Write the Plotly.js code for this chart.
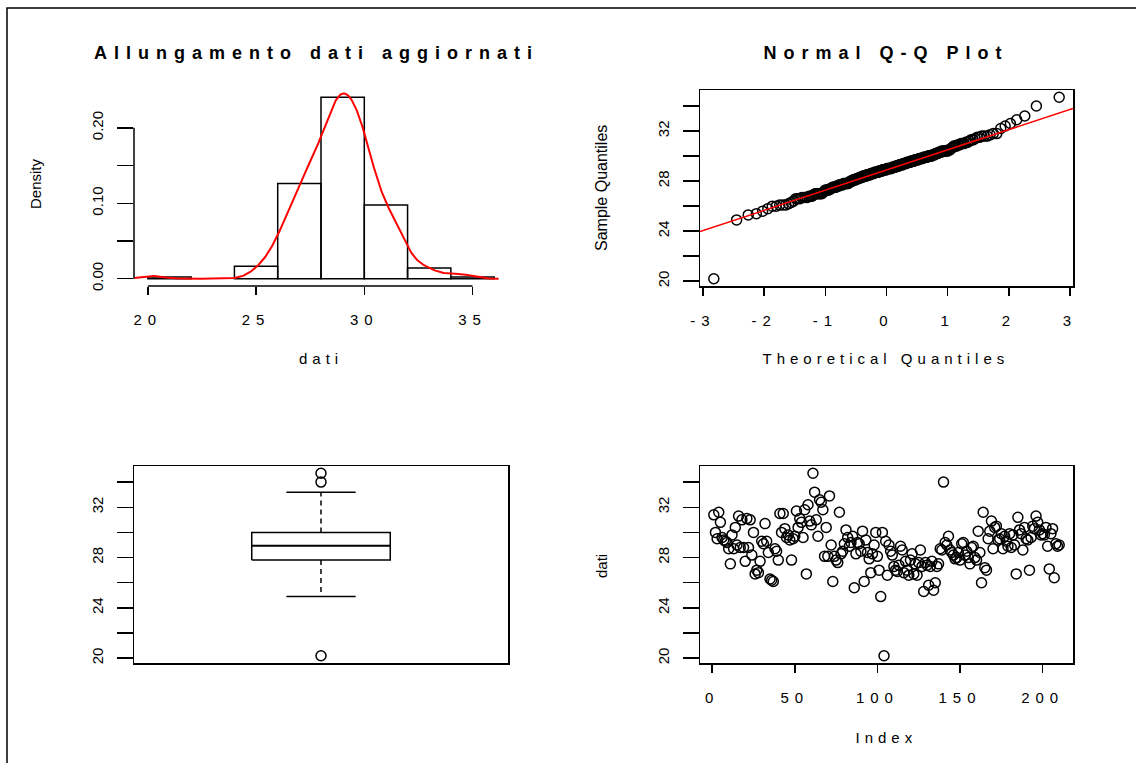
<!DOCTYPE html>
<html><head><meta charset="utf-8">
<script src="https://cdn.plot.ly/plotly-3.0.1.min.js"></script>
<style>
html,body{margin:0;padding:0;background:#fff;}
#chart{width:1136px;height:763px;}
.xtick text, .x2tick text, .x4tick text {letter-spacing:6px;}
.annotation[data-index="0"] text, .annotation[data-index="1"] text {letter-spacing:7px;}
.annotation[data-index="2"] text, .annotation[data-index="3"] text, .annotation[data-index="4"] text {letter-spacing:5px;}
</style>
</head><body><div id="chart"></div><script>
// ---- data (in index order) ----
const dati = [
31.4,30.0,29.5,31.6,30.8,29.6,29.4,29.3,29.2,28.7,
27.5,29.8,28.7,30.4,29.0,31.3,28.8,31.0,28.8,27.7,
31.1,28.8,31.0,28.2,30.0,26.7,27.0,26.8,27.7,29.3,
29.1,30.7,29.3,28.4,26.3,26.2,26.1,28.7,28.5,27.8,
31.5,30.0,31.5,30.3,29.6,29.8,29.4,27.8,29.5,29.7,
31.7,30.4,31.1,30.8,29.6,31.8,26.7,32.2,30.9,30.6,
34.7,33.2,31.0,29.7,32.6,32.4,31.8,28.1,30.4,28.1,
32.9,29.0,26.1,28.1,27.8,27.6,31.6,28.3,28.5,29.1,
30.2,29.6,28.9,29.2,29.7,25.6,28.3,29.2,29.1,28.5,
30.1,26.1,29.4,28.4,27.9,26.8,28.3,29.0,30.0,28.1,
27.0,24.9,30.0,20.2,29.3,26.6,29.0,28.5,28.2,27.3,
27.0,26.9,27.4,28.9,28.6,26.8,27.7,27.0,26.6,27.8,
28.3,26.7,27.5,26.6,27.6,28.6,27.3,25.3,27.6,27.4,
25.8,27.3,27.7,25.4,26.0,27.3,27.5,28.7,28.6,34.0,
29.2,29.0,29.7,28.6,28.4,28.2,27.9,28.0,28.4,27.8,
29.1,29.2,28.2,28.5,28.0,27.5,28.8,28.9,28.0,27.8,
30.1,28.4,26.0,31.6,27.2,27.0,29.5,30.1,30.9,28.7,
30.4,30.5,29.4,29.5,29.9,28.7,29.7,29.3,28.9,29.9,
28.8,29.8,29.0,26.7,31.2,30.2,29.9,28.6,30.4,29.5,
29.4,27.0,29.6,30.5,30.3,31.3,30.8,30.2,29.8,29.9,
29.8,30.4,28.9,27.1,29.9,30.3,26.4,29.1,28.9,29.0
];
const histBreaks = [20,22,24,26,28,30,32,34,36];
const histXTicks = [20,25,30,35];
const histYTicks = [0,0.05,0.10,0.15,0.20];
const histYLabels = ['0.00','','0.10','','0.20'];
const qqXTicks = [-3,-2,-1,0,1,2,3];
const qqXLabels = ['-3','-2','-1','0','1','2','3'];
const valueTicks = [20,22,24,26,28,30,32,34];
const valueLabels = ['20','','24','','28','','32',''];
const indexTicks = [0,50,100,150,200];

// ---- helpers ----
const W=1136,H=763;
const px = v => v/W, py = v => 1 - v/H;
const ext = (a,b) => [a-0.04*(b-a), b+0.04*(b-a)];
const n = dati.length;
const s = dati.slice().sort((a,b)=>a-b);
const idx = dati.map((_,i)=>i+1);
function q7(arr,p){const h=(arr.length-1)*p,lo=Math.floor(h);const hi=Math.min(lo+1,arr.length-1);return arr[lo]+(h-lo)*(arr[hi]-arr[lo]);}
function qnorm(p){
  const a=[-3.969683028665376e+01,2.209460984245205e+02,-2.759285104469687e+02,1.383577518672690e+02,-3.066479806614716e+01,2.506628277459239e+00];
  const b=[-5.447609879822406e+01,1.615858368580409e+02,-1.556989798598866e+02,6.680131188771972e+01,-1.328068155288572e+01];
  const c=[-7.784894002430293e-03,-3.223964580411365e-01,-2.400758277161838e+00,-2.549732539343734e+00,4.374664141464968e+00,2.938163982698783e+00];
  const d=[7.784695709041462e-03,3.224671290700398e-01,2.445134137142996e+00,3.754408661907416e+00];
  const pl=0.02425; let q,r;
  if(p<pl){q=Math.sqrt(-2*Math.log(p));return (((((c[0]*q+c[1])*q+c[2])*q+c[3])*q+c[4])*q+c[5])/((((d[0]*q+d[1])*q+d[2])*q+d[3])*q+1);}
  if(p>1-pl){q=Math.sqrt(-2*Math.log(1-p));return -(((((c[0]*q+c[1])*q+c[2])*q+c[3])*q+c[4])*q+c[5])/((((d[0]*q+d[1])*q+d[2])*q+d[3])*q+1);}
  q=p-0.5;r=q*q;return (((((a[0]*r+a[1])*r+a[2])*r+a[3])*r+a[4])*r+a[5])*q/(((((b[0]*r+b[1])*r+b[2])*r+b[3])*r+b[4])*r+1);
}
// histogram (right-closed like R)
const bw2 = histBreaks[1]-histBreaks[0];
const counts = histBreaks.slice(0,-1).map((b,i)=>dati.filter(v=>v>b&&v<=histBreaks[i+1]).length);
const maxDens = Math.max(...counts)/(n*bw2);
// kernel density (R default: gaussian, bw.nrd0, 512 points)
const mean = dati.reduce((a,b)=>a+b,0)/n;
const sd = Math.sqrt(dati.reduce((a,b)=>a+(b-mean)**2,0)/(n-1));
const iqr = q7(s,0.75)-q7(s,0.25);
const bw = 0.9*Math.min(sd,iqr/1.34)*Math.pow(n,-0.2);
const kx=[],ky=[];
{const lo=s[0]-3*bw,hi=s[n-1]+3*bw;
 for(let i=0;i<512;i++){const x=lo+(hi-lo)*i/511;let sum=0;for(const v of dati){const z=(x-v)/bw;sum+=Math.exp(-0.5*z*z);}kx.push(x);ky.push(sum/(n*bw*Math.sqrt(2*Math.PI)));}}
// QQ
const theo = s.map((_,i)=>qnorm((i+0.5)/n));
const qy1=q7(s,0.25), qy3=q7(s,0.75), qx1=qnorm(0.25), qx3=qnorm(0.75);
const slope=(qy3-qy1)/(qx3-qx1), inter=qy1-slope*qx1;
const qqXR = ext(theo[0],theo[n-1]);
// boxplot stats (R fivenum + 1.5 IQR)
function fivenum(x){const m=x.length;const n4=Math.floor((m+3)/2)/2;const dd=[1,n4,(m+1)/2,m+1-n4,m];return dd.map(v=>0.5*(x[Math.floor(v)-1]+x[Math.ceil(v)-1]));}
const fn=fivenum(s); const hIQR=fn[3]-fn[1];
const loF=fn[1]-1.5*hIQR, hiF=fn[3]+1.5*hIQR;
const wLo=s.find(v=>v>=loF), wHi=[...s].reverse().find(v=>v<=hiF);
const outl=s.filter(v=>v<loF||v>hiF);
const valR = ext(s[0],s[n-1]);

// ---- domains (pixel boxes) ----
const D = {
  p1:{x:[134,508],y:[90,286]}, p2:{x:[700,1073],y:[90,286]},
  p3:{x:[134,508],y:[466,663]}, p4:{x:[700,1073],y:[466,663]}
};
const dx = b=>[px(b.x[0]),px(b.x[1])], dy = b=>[py(b.y[1]),py(b.y[0])];
const fontF = '"Liberation Sans", Arial, sans-serif';
const tf = {family:fontF,size:15,color:'#000'};
const baseAx = {showgrid:false,zeroline:false,ticks:'outside',tickcolor:'#000',tickwidth:1.5,linecolor:'#000',linewidth:1.5,tickfont:tf,fixedrange:true};
const xAx = o=>Object.assign({},baseAx,{ticklen:8,ticklabelstandoff:12},o);
const yAx = o=>Object.assign({},baseAx,{ticklen:16,tickangle:-90,ticklabelstandoff:8},o);

const blk='#000';
const circ = {symbol:'circle-open',size:10,color:blk,line:{width:1.5}};
const traces = [
  {type:'histogram',x:dati,xaxis:'x',yaxis:'y',histnorm:'probability density',
   xbins:{start:histBreaks[0]+1e-6,end:histBreaks[histBreaks.length-1]+1e-6,size:bw2},
   marker:{color:'rgba(255,255,255,0)',line:{color:blk,width:1.5}},hoverinfo:'skip'},
  {type:'scatter',mode:'lines',x:kx,y:ky,xaxis:'x',yaxis:'y',line:{color:'#ff0000',width:2},hoverinfo:'skip'},
  {type:'scatter',mode:'markers',x:theo,y:s,xaxis:'x2',yaxis:'y2',marker:circ,hoverinfo:'skip'},
  {type:'scatter',mode:'lines',x:qqXR,y:qqXR.map(x=>inter+slope*x),xaxis:'x2',yaxis:'y2',line:{color:'#ff0000',width:1.5},hoverinfo:'skip'},
  // boxplot
  {type:'scatter',mode:'lines',x:[0.8,1.2,1.2,0.8,0.8],y:[fn[1],fn[1],fn[3],fn[3],fn[1]],xaxis:'x3',yaxis:'y3',line:{color:blk,width:1.5},hoverinfo:'skip'},
  {type:'scatter',mode:'lines',x:[0.8,1.2],y:[fn[2],fn[2]],xaxis:'x3',yaxis:'y3',line:{color:blk,width:2},hoverinfo:'skip'},
  {type:'scatter',mode:'lines',x:[1,1,null,1,1],y:[fn[3],wHi,null,fn[1],wLo],xaxis:'x3',yaxis:'y3',line:{color:blk,width:1.5,dash:'5px,4px'},hoverinfo:'skip'},
  {type:'scatter',mode:'lines',x:[0.9,1.1,null,0.9,1.1],y:[wHi,wHi,null,wLo,wLo],xaxis:'x3',yaxis:'y3',line:{color:blk,width:1.5},hoverinfo:'skip'},
  {type:'scatter',mode:'markers',x:outl.map(()=>1),y:outl,xaxis:'x3',yaxis:'y3',marker:circ,hoverinfo:'skip'},
  // index plot
  {type:'scatter',mode:'markers',x:idx,y:dati,xaxis:'x4',yaxis:'y4',marker:circ,hoverinfo:'skip'}
];

const histXR = ext(histBreaks[0],histBreaks[histBreaks.length-1]);
const histYR = ext(0,maxDens);
const p1b = py(D.p1.y[1]), p1l = px(D.p1.x[0]);
const layout = {
  width:W,height:H,margin:{l:0,r:0,t:0,b:0},paper_bgcolor:'#fff',plot_bgcolor:'rgba(0,0,0,0)',
  showlegend:false,bargap:0,hovermode:false,
  xaxis: xAx({domain:dx(D.p1),anchor:'y',range:histXR,tickvals:histXTicks,showline:false}),
  yaxis: yAx({domain:dy(D.p1),anchor:'x',range:histYR,tickvals:histYTicks,ticktext:histYLabels,showline:false}),
  xaxis2: xAx({domain:dx(D.p2),anchor:'y2',range:qqXR,tickvals:qqXTicks,ticktext:qqXLabels,showline:true,mirror:true}),
  yaxis2: yAx({domain:dy(D.p2),anchor:'x2',range:valR,tickvals:valueTicks,ticktext:valueLabels,showline:true,mirror:true}),
  xaxis3: xAx({domain:dx(D.p3),anchor:'y3',range:ext(0.5,1.5),ticks:'',showticklabels:false,showline:true,mirror:true}),
  yaxis3: yAx({domain:dy(D.p3),anchor:'x3',range:valR,tickvals:valueTicks,ticktext:valueLabels,showline:true,mirror:true}),
  xaxis4: xAx({domain:dx(D.p4),anchor:'y4',range:ext(1,n),tickvals:indexTicks,showline:true,mirror:true}),
  yaxis4: yAx({domain:dy(D.p4),anchor:'x4',range:valR,tickvals:valueTicks,ticktext:valueLabels,showline:true,mirror:true}),
  shapes:[
    {type:'line',xref:'x',yref:'paper',x0:histXTicks[0],x1:histXTicks[histXTicks.length-1],y0:p1b,y1:p1b,line:{color:blk,width:1.5}},
    {type:'line',xref:'paper',yref:'y',x0:p1l,x1:p1l,y0:histYTicks[0],y1:histYTicks[histYTicks.length-1],line:{color:blk,width:1.5}},
    {type:'rect',xref:'paper',yref:'paper',x0:px(7),x1:px(1145),y0:py(8),y1:py(775),line:{color:blk,width:1.5},fillcolor:'rgba(0,0,0,0)'}
  ],
  annotations:[
    {text:'<b>Allungamento dati aggiornati</b>',x:px(316),y:py(53),font:{family:fontF,size:18,color:blk}},
    {text:'<b>Normal Q-Q Plot</b>',x:px(886),y:py(53),font:{family:fontF,size:18,color:blk}},
    {text:'dati',x:px(321),y:py(358),font:tf},
    {text:'Theoretical Quantiles',x:px(886),y:py(358),font:tf},
    {text:'Index',x:px(886),y:py(737),font:tf},
    {text:'Density',x:px(36),y:py(184),textangle:-90,font:tf},
    {text:'Sample Quantiles',x:px(601),y:py(188),textangle:-90,font:{family:fontF,size:16,color:blk}},
    {text:'dati',x:px(601),y:py(566),textangle:-90,font:tf}
  ].map(a=>Object.assign({xref:'paper',yref:'paper',showarrow:false,xanchor:'center',yanchor:'middle'},a))
};
Plotly.newPlot('chart',traces,layout,{staticPlot:true,displayModeBar:false});
</script></body></html>
